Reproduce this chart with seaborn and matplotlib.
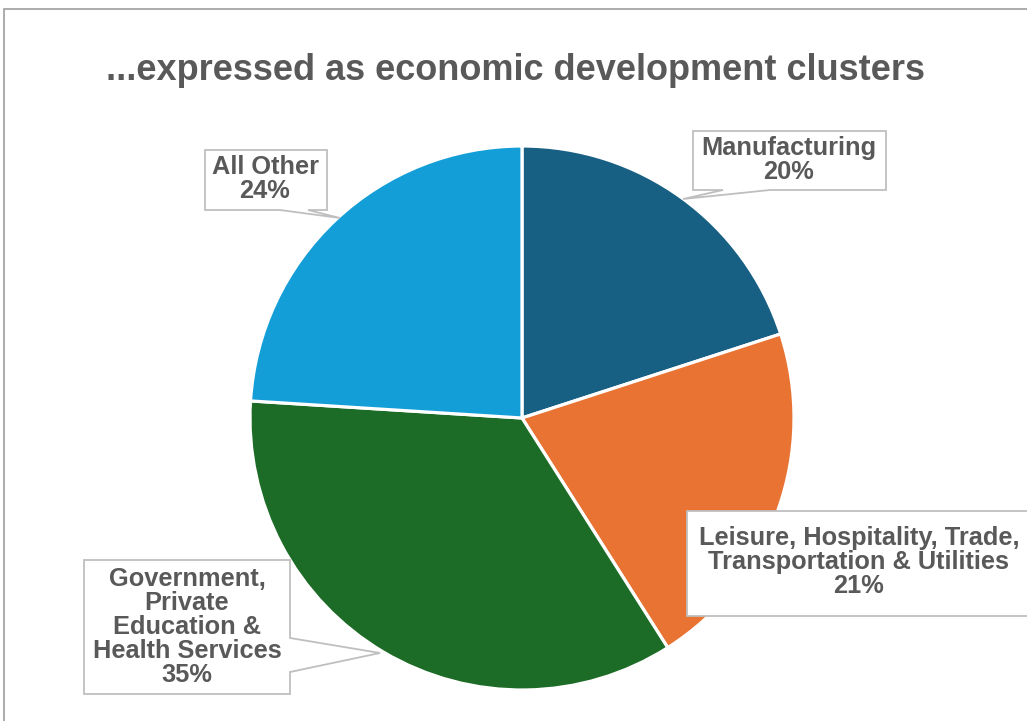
import matplotlib
matplotlib.use("Agg")
import matplotlib.pyplot as plt
from matplotlib.patches import Polygon
import seaborn as sns

# Employment shares by economic development cluster (percent)
clusters = [
    "Manufacturing",
    "Leisure, Hospitality, Trade,\nTransportation & Utilities",
    "Government,\nPrivate\nEducation &\nHealth Services",
    "All Other",
]
shares = [20, 21, 35, 24]
slice_colors = ["#186083", "#E87333", "#1C6B26", "#139ED8"]

sns.set_style("white")
plt.rcParams["font.family"] = ["Liberation Sans", "DejaVu Sans"]

W, H = 1027, 721
fig = plt.figure(figsize=(W / 100, H / 100), dpi=100)
ax = fig.add_axes([0, 0, 1, 1])


def fy(y):
    """Convert a top-down pixel row into the axes' bottom-up coordinate."""
    return H - y


palette = sns.color_palette(slice_colors)
ax.pie(
    shares,
    colors=palette,
    startangle=90,
    counterclock=False,
    center=(522, fy(418)),
    radius=272,
    wedgeprops=dict(edgecolor="white", linewidth=2.3),
)
ax.set_xlim(0, W)
ax.set_ylim(0, H)
ax.set_aspect("equal")
ax.axis("off")

# Outer chart frame (open to the right and bottom)
ax.plot([4, 4, W + 5], [fy(H + 5), fy(9), fy(9)], color="#A6A6A6", lw=1.3,
        solid_joinstyle="miter", clip_on=False)

text_color = "#595959"
box_edge = "#BFBFBF"

ax.text(516, fy(71), "...expressed as economic development clusters",
        ha="center", va="center", fontsize=26, fontweight="bold", color=text_color)


def callout(outline, xy, label):
    pts = [(x, fy(y)) for x, y in outline]
    ax.add_patch(Polygon(pts, closed=True, facecolor="white", edgecolor=box_edge,
                         lw=1.3, joinstyle="miter", zorder=3))
    ax.text(xy[0], fy(xy[1]), label, ha="center", va="center", fontsize=18.3,
            fontweight="bold", color=text_color, linespacing=1.0, zorder=4)


labels = [f"{name}\n{pct}%" for name, pct in zip(clusters, shares)]

# Manufacturing: box with pointer from the bottom edge
callout([(693, 131), (886, 131), (886, 190), (770, 190), (683, 199), (723, 190), (693, 190)],
        (789, 160), labels[0])
# Leisure, Hospitality ... : box running off the right side
callout([(687, 511), (W + 10, 511), (W + 10, 616), (687, 616)],
        (859, 562), labels[1])
# Government ...: pointer from the right edge
callout([(84, 560), (290, 560), (290, 638), (380, 653), (290, 672), (290, 694), (84, 694)],
        (187, 627), labels[2])
# All Other: pointer from the bottom edge
callout([(205, 150), (327, 150), (327, 210), (308, 210), (340, 218), (280, 210), (205, 210)],
        (265, 179), labels[3])

fig.savefig("out.png", dpi=100, facecolor="white")
